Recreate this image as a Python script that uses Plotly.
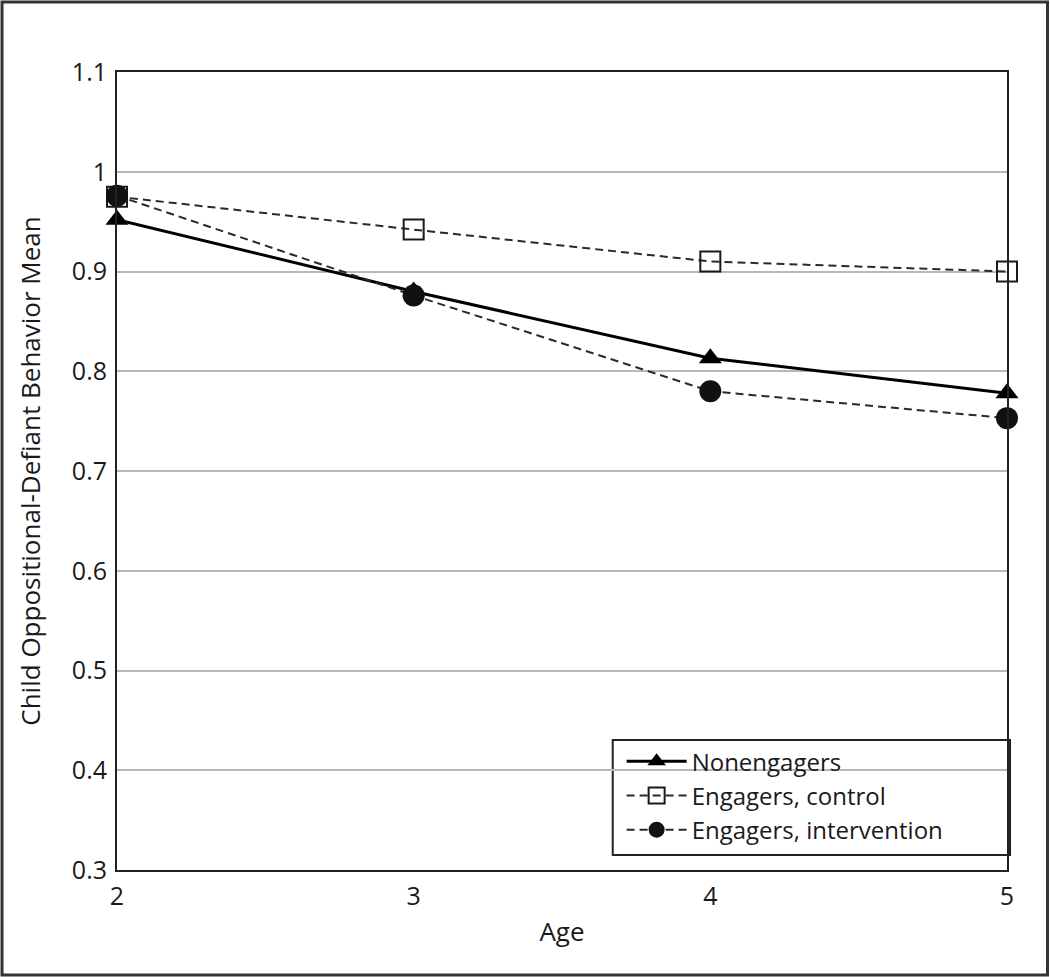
import plotly.graph_objects as go

ages = [2, 3, 4, 5]
nonengagers = [0.952, 0.880, 0.813, 0.778]
engagers_control = [0.975, 0.942, 0.910, 0.900]
engagers_intervention = [0.976, 0.876, 0.780, 0.753]
y_ticks = [0.3, 0.4, 0.5, 0.6, 0.7, 0.8, 0.9, 1.0, 1.1]
y_tick_text = ["0.3", "0.4", "0.5", "0.6", "0.7", "0.8", "0.9", "1", "1.1"]

FONT = "Open Sans"
INK = "#1a1a1a"

fig = go.Figure()
fig.add_trace(go.Scatter(
    x=ages, y=nonengagers, name="Nonengagers", mode="lines+markers",
    line=dict(color="black", width=3),
    marker=dict(symbol="triangle-up", size=20, color="black"),
    cliponaxis=False,
))
fig.add_trace(go.Scatter(
    x=ages, y=engagers_control, name="Engagers, control", mode="lines+markers",
    line=dict(color="#2a2a2a", width=2, dash="8px,5px"),
    marker=dict(symbol="square-open", size=20, color="#1a1a1a", line=dict(width=2)),
    cliponaxis=False,
))
fig.add_trace(go.Scatter(
    x=ages, y=engagers_intervention, name="Engagers, intervention", mode="lines+markers",
    line=dict(color="#2a2a2a", width=2, dash="8px,5px"),
    marker=dict(symbol="circle", size=22, color="#111111"),
    cliponaxis=False,
))

# outer frame of the figure
fig.add_shape(type="rect", xref="paper", yref="paper",
              x0=-0.1292, x1=1.0455, y0=-0.1316, y1=1.0877,
              line=dict(color="#333333", width=3), layer="below")
# legend frame
fig.add_shape(type="rect", xref="paper", yref="paper",
              x0=0.557, x1=1.0034, y0=0.0188, y1=0.1629,
              line=dict(color="#222222", width=2), fillcolor="white", layer="below")

fig.update_layout(
    width=1050, height=977,
    margin=dict(l=117, r=43, t=72, b=107),
    paper_bgcolor="white", plot_bgcolor="white",
    font=dict(family=FONT, size=24, color=INK),
    showlegend=True,
    legend=dict(
        x=0.567, y=0.164, xanchor="left", yanchor="top",
        borderwidth=0, bgcolor="rgba(0,0,0,0)",
        font=dict(family=FONT, size=24, color=INK), tracegroupgap=0,
        itemwidth=60,
    ),
    xaxis=dict(
        range=[2, 5], tickvals=ages, ticktext=[str(a) for a in ages],
        showgrid=False, zeroline=False,
        showline=True, linecolor="#222222", linewidth=2, mirror=True,
        ticks="", ticklabelstandoff=3, tickfont=dict(size=25),
        title=dict(text="Age", font=dict(family=FONT, size=26), standoff=12),
    ),
    yaxis=dict(
        range=[0.3, 1.1], tickvals=y_ticks, ticktext=y_tick_text,
        showgrid=True, gridcolor="#b8b8b8", gridwidth=1.5, zeroline=False,
        showline=True, linecolor="#222222", linewidth=2, mirror=True,
        ticks="", ticklabelstandoff=3, tickfont=dict(size=25),
        title=dict(text="Child Oppositional-Defiant Behavior Mean",
                   font=dict(family=FONT, size=26), standoff=24),
    ),
)

fig.write_html("out.html", config={"displayModeBar": False},
               post_script="document.body.style.margin='0';")
